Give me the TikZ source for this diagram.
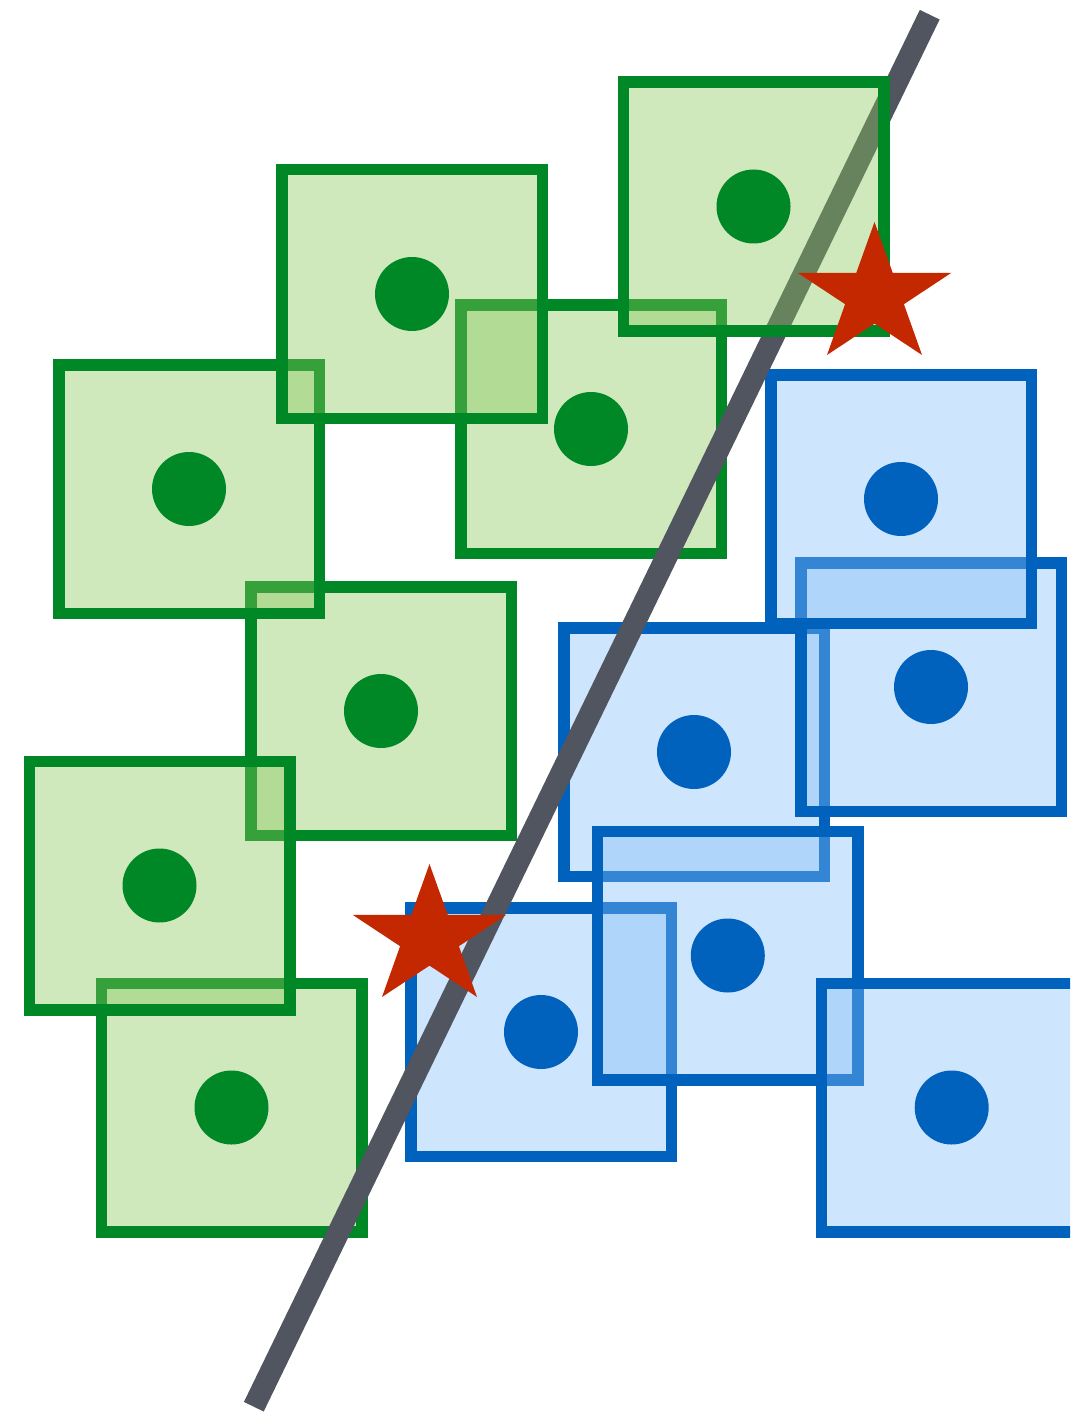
\documentclass[tikz,border=0pt]{standalone}
\definecolor{gstroke}{RGB}{0,136,38}
\definecolor{gfill}{RGB}{136,200,92}
\definecolor{bstroke}{RGB}{0,98,189}
\definecolor{bfill}{RGB}{130,190,250}
\definecolor{linegray}{RGB}{80,85,95}
\definecolor{starred}{RGB}{196,40,0}
\tikzset{
  gbox/.style={draw=gstroke, fill=gfill, fill opacity=0.4, line width=11.5pt},
  bbox/.style={draw=bstroke, fill=bfill, fill opacity=0.4, line width=11.5pt},
  gdot/.style={fill=gstroke},
  bdot/.style={fill=bstroke},
  divider/.style={draw=linegray, line width=22pt},
  starshape/.style={fill=starred},
  redstar/.pic={\fill[starshape] (0,-73.5) -- (18.2,-22.7) -- (76.9,-22.7) -- (29.4,8.7) -- (47.5,59.5) -- (0,28.1) -- (-47.5,59.5) -- (-29.4,8.7) -- (-76.9,-22.7) -- (-18.2,-22.7) -- cycle;}
}
\newcommand\greenbox[2]{\filldraw[gbox] (#1-130.25,#2-124.25) rectangle (#1+130.25,#2+124.25); \fill[gdot] (#1,#2) circle[radius=37];}
\newcommand\bluebox[2]{\filldraw[bbox] (#1-130.25,#2-124.25) rectangle (#1+130.25,#2+124.25); \fill[bdot] (#1,#2) circle[radius=37];}
\begin{document}
\begin{tikzpicture}[x=1pt,y=-1pt]
\fill[white] (0,0) rectangle (1070,1412);
\useasboundingbox (0,0) rectangle (1070,1412);
\clip (0,0) rectangle (1070,1412);
% green squares (bottom to top)
\greenbox{381}{711}
\greenbox{231.5}{1107.5}
\greenbox{591}{429}
\greenbox{189}{489}
\greenbox{159.5}{885.5}
\greenbox{412}{294}
% blue squares
\bluebox{694}{752}
\bluebox{541}{1032}
\bluebox{931}{687}
\bluebox{901}{499}
\bluebox{727.8}{955.5}
\bluebox{951.7}{1107.5}
% dividing line
\coordinate (ltop) at (929.7,14.7);
\coordinate (lbot) at (253.8,1406.7);
\draw[divider] (lbot) -- (ltop);
% top-right green square lies above the line
\greenbox{753.5}{206.5}
% stars
\pic at (874.5,295.5) {redstar};
\pic at (429.5,937.5) {redstar};
\end{tikzpicture}
\end{document}
